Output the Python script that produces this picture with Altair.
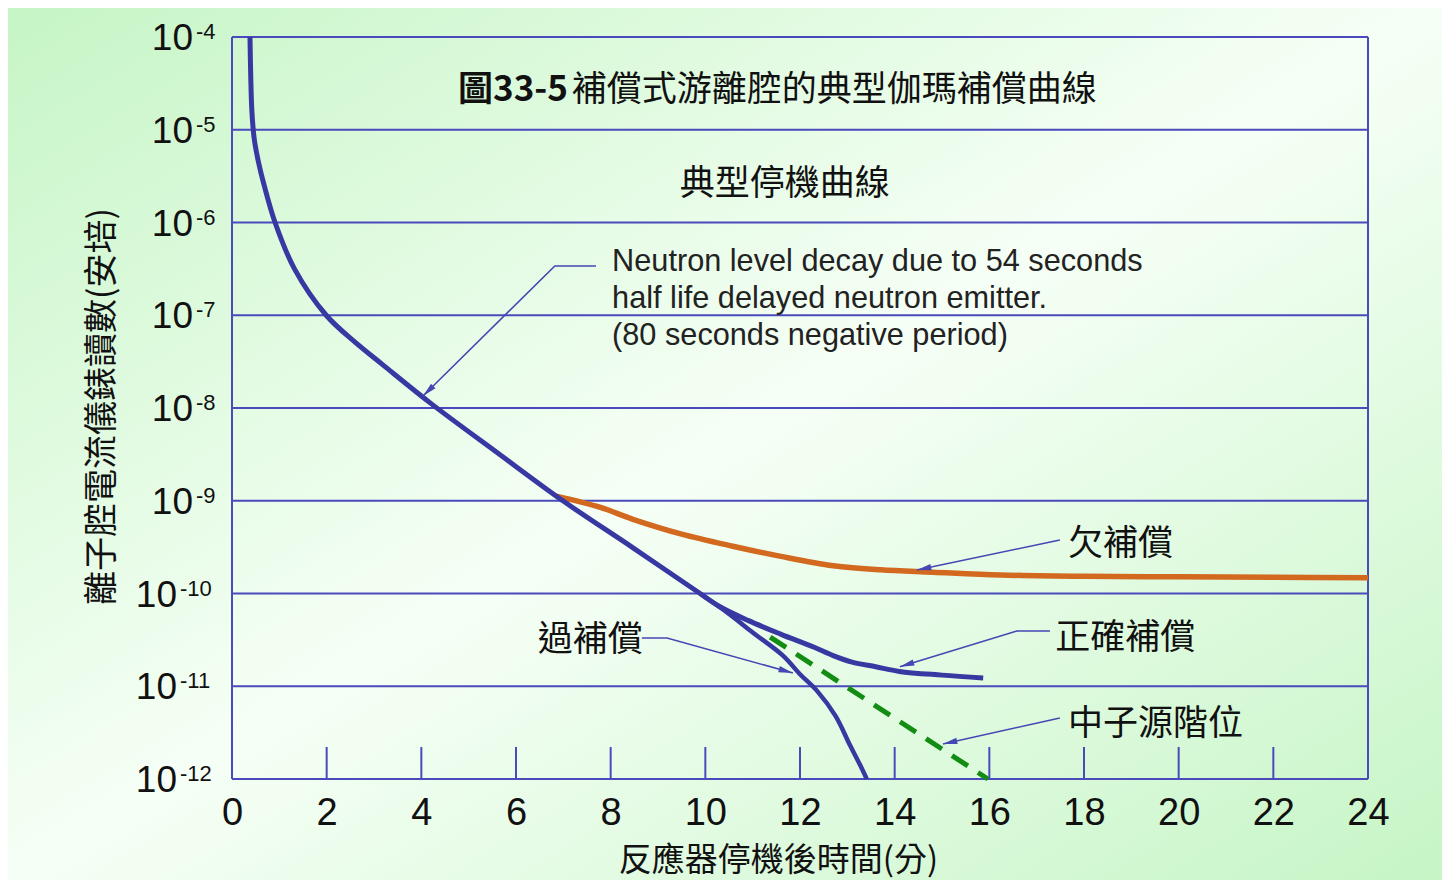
import math
import altair as alt
import pandas as pd

W, H = 1136, 742

# ---------------- data (x: minutes after shutdown, y: log10 of current in A)
main_x = [0.38, 0.395, 0.42, 0.47, 0.56, 0.68, 0.91, 1.32, 1.99, 2.6, 3.2, 4.2, 5.6, 6.99, 8.45, 9.89]
main_e = [-4.0, -4.4, -4.8, -5.1, -5.35, -5.6, -6.0, -6.5, -7.0, -7.29, -7.54, -7.95, -8.48, -9.0, -9.5, -10.0]

over_x = [9.89, 10.5, 11.0, 11.64, 12.0, 12.36, 12.75, 13.06, 13.27, 13.41]
over_e = [-10.0, -10.22, -10.42, -10.67, -10.87, -11.05, -11.32, -11.64, -11.85, -12.0]

corr_x = [9.89, 10.3, 10.9, 11.6, 12.3, 12.7, 13.1, 13.6, 14.1, 15.0, 15.87]
corr_e = [-10.0, -10.14, -10.29, -10.44, -10.58, -10.67, -10.74, -10.79, -10.84, -10.88, -10.91]

under_x = [6.85, 7.77, 8.47, 9.5, 10.58, 11.6, 12.7, 13.7, 14.81, 16.23, 18.0, 20.0, 22.0, 24.0]
under_e = [-8.95, -9.07, -9.20, -9.36, -9.49, -9.60, -9.70, -9.745, -9.77, -9.80, -9.815, -9.82, -9.825, -9.83]

source_x = [11.37, 15.97]
source_e = [-10.47, -12.0]

x_ticks = [0, 2, 4, 6, 8, 10, 12, 14, 16, 18, 20, 22, 24]
inner_ticks = [2, 4, 6, 8, 10, 12, 14, 16, 18, 20, 22]
y_exps = [-12, -11, -10, -9, -8, -7, -6, -5, -4]
y_base = "10"
y_exp_one = ["-4", "-5", "-6", "-7", "-8", "-9"]
y_exp_one_e = [-4, -5, -6, -7, -8, -9]
y_exp_two = ["-10", "-11", "-12"]
y_exp_two_e = [-10, -11, -12]

# annotation leader lines (polyline points, last point = arrow tip)
ann_neutron = [(7.69, -6.469), (6.82, -6.469), (4.035, -7.871)]
ann_under = [(17.49, -9.423), (14.47, -9.747)]
ann_correct = [(17.28, -10.404), (16.58, -10.404), (14.11, -10.79)]
ann_over = [(8.66, -10.48), (9.19, -10.48), (11.85, -10.857)]
ann_source = [(17.49, -11.342), (15.02, -11.623)]

cjk_labels = ["典型停機曲線", "欠補償", "正確補償", "過補償", "中子源階位", "補償式游離腔的典型伽瑪補償曲線"]
cjk_x = [9.46, 17.66, 17.39, 6.46, 17.66, 7.18]
cjk_e = [-5.553, -9.434, -10.447, -10.469, -11.375, -4.54]

title_bold = "圖33-5"
title_bold_x, title_bold_e = 4.775, -4.54

neutron_lines = ["Neutron level decay due to 54 seconds",
                 "half life delayed neutron emitter.",
                 "(80 seconds negative period)"]
neutron_x = 8.03
neutron_e = [-6.404, -6.803, -7.202]

x_title = "反應器停機後時間(分)"
y_title = "離子腔電流儀錶讀數(安培)"

# ---------------- styling
BLUE = "#3838a2"
GRID = "#4a4abc"
ORANGE = "#d2691e"
GREEN = "#128c12"
CJK = "Noto Sans CJK TC"
LAT = "Liberation Sans"
INK = "#111111"


def tbl(xs, es):
    d = pd.DataFrame({"x": xs, "y": [10 ** e for e in es]})
    d["i"] = range(len(d))
    return d


xs = alt.Scale(domain=[0, 24], nice=False, zero=False)
ys = alt.Scale(type="log", domain=[1e-12, 1e-4], nice=False)

xaxis = alt.Axis(values=x_ticks, grid=False, ticks=False, domain=False,
                 labelFont=LAT, labelFontSize=38, labelColor=INK, labelPadding=15,
                 labelFlush=False, title=x_title, titleFont=CJK, titleFontSize=33,
                 titleFontWeight="normal", titleColor=INK, titleX=546, titleY=81,
                 titleBaseline="middle", titleAlign="center", zindex=2)
yaxis = alt.Axis(values=[10 ** e for e in y_exps], grid=False, ticks=False, domain=False,
                 labels=False,
                 title=y_title, titleFont=CJK, titleFontSize=34, titleFontWeight="normal",
                 titleColor=INK, titleX=-130, titleY=369, titleAngle=270,
                 titleBaseline="middle", titleAlign="center", zindex=2)

X = alt.X("x:Q", scale=xs, axis=xaxis)
Y = alt.Y("y:Q", scale=ys, axis=yaxis)

# background gradient panel
bg = alt.Chart(pd.DataFrame({"a": [0]})).mark_rect(
    color=alt.LinearGradient(
        gradient="linear", x1=0, y1=0, x2=1, y2=1,
        stops=[alt.GradientStop(color="#c6f5c6", offset=0),
               alt.GradientStop(color="#f6fff6", offset=0.5),
               alt.GradientStop(color="#c6f5c6", offset=1)])
).encode(x=alt.value(-224), x2=alt.value(W + 74), y=alt.value(-29), y2=alt.value(H + 101))

# horizontal grid lines (decades)
grid_df = pd.DataFrame({"x": [0] * len(y_exps), "x2": [24] * len(y_exps),
                        "y": [10 ** e for e in y_exps]})
grid = alt.Chart(grid_df).mark_rule(color=GRID, strokeWidth=2).encode(x=X, x2="x2:Q", y=Y)

# vertical borders
vb_df = pd.DataFrame({"x": [0, 24], "y": [1e-12, 1e-12], "y2": [1e-4, 1e-4]})
vborder = alt.Chart(vb_df).mark_rule(color=GRID, strokeWidth=2).encode(x=X, y=Y, y2="y2:Q")

# inward x ticks
tk_df = pd.DataFrame({"x": inner_ticks})
ticks = alt.Chart(tk_df).mark_rule(color=GRID, strokeWidth=2).encode(
    x=X, y=alt.value(H), y2=alt.value(H - 32))


# y tick labels: "10" with superscript exponent
def ylabels(exps, texts, base_x, exp_x):
    df = pd.DataFrame({"y": [10 ** e for e in exps], "t": texts, "b": [y_base] * len(exps)})
    base = alt.Chart(df).mark_text(font=LAT, fontSize=37, align="right", baseline="middle",
                                   dy=2, color=INK).encode(x=alt.value(base_x), y=Y, text="b:N")
    sup = alt.Chart(df).mark_text(font=LAT, fontSize=22, align="left", baseline="middle",
                                  dy=-5, color=INK).encode(x=alt.value(exp_x), y=Y, text="t:N")
    return [base, sup]


ylab = ylabels(y_exp_one_e, y_exp_one, -39, -36) + ylabels(y_exp_two_e, y_exp_two, -55, -52)


def curve(xv, ev, color, width, dash=None):
    kw = dict(color=color, strokeWidth=width, interpolate="catmull-rom")
    if dash:
        kw["strokeDash"] = dash
    return alt.Chart(tbl(xv, ev)).mark_line(**kw).encode(x=X, y=Y, order="i:Q")


c_under = curve(under_x, under_e, ORANGE, 5.5)
c_main = curve(main_x, main_e, BLUE, 5)
c_over = curve(over_x, over_e, BLUE, 4.5)
c_corr = curve(corr_x, corr_e, BLUE, 5)
c_src = alt.Chart(tbl(source_x, source_e)).mark_line(
    color=GREEN, strokeWidth=5, strokeDash=[19, 12]).encode(x=X, y=Y, order="i:Q")

# annotations
anns = [ann_neutron, ann_under, ann_correct, ann_over, ann_source]
rows, heads = [], []


def px(x):
    return x / 24 * W


def py(e):
    return (-4 - e) / 8 * H


for g, pts in enumerate(anns):
    for i, (x, e) in enumerate(pts):
        rows.append({"x": x, "y": 10 ** e, "g": g, "o": i})
    (x0, e0), (x1, e1) = pts[-2], pts[-1]
    dx, dy = px(x1) - px(x0), py(e1) - py(e0)
    ang = (math.degrees(math.atan2(dx, -dy)) + 360) % 360
    heads.append({"x": x1, "y": 10 ** e1, "ang": ang})

ann_lines = alt.Chart(pd.DataFrame(rows)).mark_line(color="#4646b4", strokeWidth=1.6).encode(
    x=X, y=Y, detail="g:N", order="o:Q")
ann_heads = alt.Chart(pd.DataFrame(heads)).mark_point(
    shape="M0,0L0.42,1.9L-0.42,1.9Z", filled=True, color="#4646b4", opacity=1, size=230
).encode(x=X, y=Y, angle=alt.Angle("ang:Q", scale=None))

# texts
cjk_df = pd.DataFrame({"x": cjk_x, "y": [10 ** e for e in cjk_e], "t": cjk_labels})
t_cjk = alt.Chart(cjk_df).mark_text(font=CJK, fontSize=35, align="left", baseline="middle",
                                    dy=3, color=INK).encode(x=X, y=Y, text="t:N")
tb_df = pd.DataFrame({"x": [title_bold_x], "y": [10 ** title_bold_e], "t": [title_bold]})
t_bold = alt.Chart(tb_df).mark_text(font=CJK, fontSize=35, fontWeight="bold", align="left",
                                    baseline="middle", dy=3, color=INK).encode(x=X, y=Y, text="t:N")
nt_df = pd.DataFrame({"x": [neutron_x] * 3, "y": [10 ** e for e in neutron_e], "t": neutron_lines})
t_neu = alt.Chart(nt_df).mark_text(font=LAT, fontSize=30.7, align="left", baseline="middle",
                                   dy=2, color="#222222").encode(x=X, y=Y, text="t:N")

chart = alt.layer(
    bg, grid, vborder, ticks, *ylab, c_under, c_main, c_over, c_corr, c_src,
    ann_lines, ann_heads, t_cjk, t_bold, t_neu
).properties(width=W, height=H, padding=0).configure_view(stroke=None)

chart.save("out.html", embed_options={"renderer": "svg", "actions": False})
